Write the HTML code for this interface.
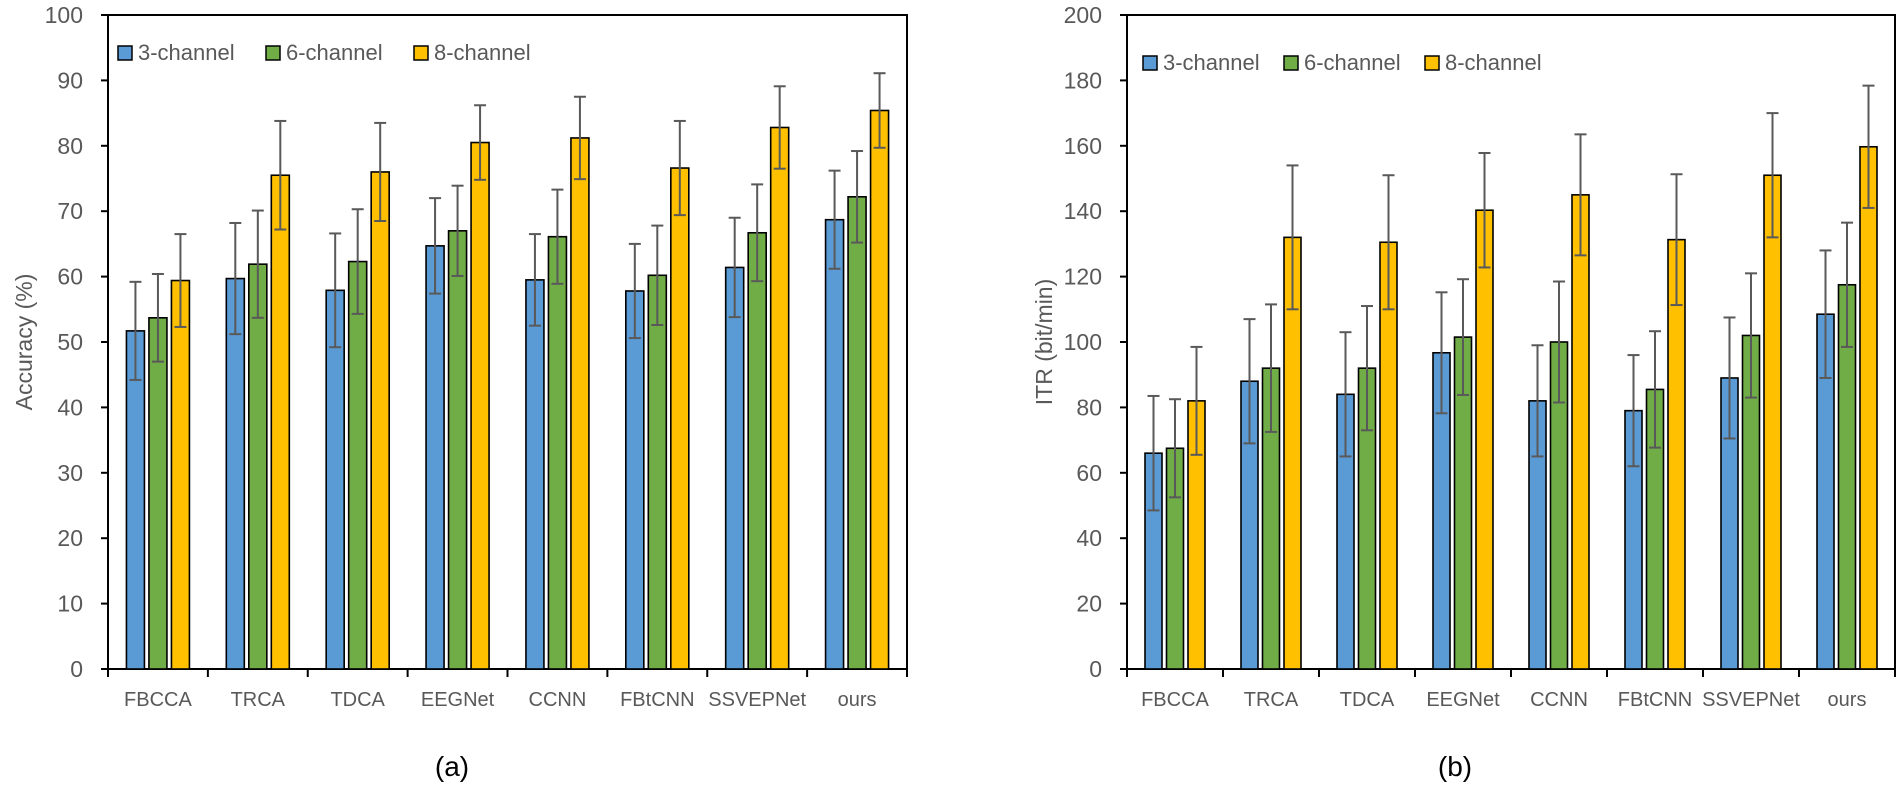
<!DOCTYPE html>
<html><head><meta charset="utf-8"><style>
html,body{margin:0;padding:0;background:#fff;}
svg{display:block;font-family:"Liberation Sans",Arial,sans-serif;}
</style></head><body>
<svg id="chart" width="1902" height="791" viewBox="0 0 1902 791" xmlns="http://www.w3.org/2000/svg"></svg>
<script>
const categories = ["FBCCA","TRCA","TDCA","EEGNet","CCNN","FBtCNN","SSVEPNet","ours"];
const seriesNames = ["3-channel","6-channel","8-channel"];
const accMean3 = [51.7,59.7,57.9,64.7,59.5,57.8,61.4,68.7];
const accMean6 = [53.7,61.9,62.3,67.0,66.1,60.2,66.7,72.2];
const accMean8 = [59.4,75.5,76.0,80.5,81.2,76.6,82.8,85.4];
const accErr3 = [7.5,8.5,8.7,7.3,7.0,7.2,7.6,7.5];
const accErr6 = [6.7,8.2,8.0,6.9,7.2,7.6,7.4,7.0];
const accErr8 = [7.1,8.3,7.5,5.7,6.3,7.2,6.3,5.7];
const itrMean3 = [66.0,88.0,84.0,96.7,82.0,79.0,89.0,108.5];
const itrMean6 = [67.5,92.0,92.0,101.5,100.0,85.5,102.0,117.5];
const itrMean8 = [82.0,132.0,130.5,140.3,145.0,131.3,151.0,159.7];
const itrErr3 = [17.5,19.0,19.0,18.5,17.0,17.0,18.5,19.5];
const itrErr6 = [15.0,19.5,19.0,17.7,18.5,17.8,19.0,19.0];
const itrErr8 = [16.5,22.0,20.5,17.5,18.5,20.0,19.0,18.7];
const accTicks = [0,10,20,30,40,50,60,70,80,90,100];
const itrTicks = [0,20,40,60,80,100,120,140,160,180,200];
const colors = ["#5b9bd5","#70ad47","#ffc000"];

const NS="http://www.w3.org/2000/svg";
const svg=document.getElementById('chart');
function mk(tag,attrs,parent){const e=document.createElementNS(NS,tag);for(const k in attrs)e.setAttribute(k,attrs[k]);(parent||svg).appendChild(e);return e;}

function drawPanel(opt){
  const g=mk('g',{});
  
  
  const x0=opt.x0,x1=opt.x1,yTop=15,yBot=669;
  const vmax=opt.ticks[opt.ticks.length-1];
  const yS=v=>yBot-(v/vmax)*(yBot-yTop);
  const cw=(x1-x0)/categories.length;
  const xC=i=>x0+cw*(i+0.5);
  // frame
  const fr=mk('rect',{x:x0,y:yTop,width:x1-x0,height:yBot-yTop,fill:'none',stroke:'#000','stroke-width':2},g);
  
  
  // y ticks
  opt.ticks.forEach(t=>{
    mk('line',{x1:x0-7,x2:x0,y1:yS(t),y2:yS(t),stroke:'#000','stroke-width':2},g);
    const tx=mk('text',{x:x0-25,y:yS(t)+8,'text-anchor':'end','font-size':23,fill:'#595959'},g);
    tx.textContent=t;
    
    
  });
  // x ticks
  for(let i=0;i<=categories.length;i++){
    mk('line',{x1:x0+cw*i,x2:x0+cw*i,y1:yBot,y2:yBot+8,stroke:'#000','stroke-width':2},g);
  }
  categories.forEach((c,i)=>{
    const tx=mk('text',{x:xC(i),y:706,'text-anchor':'middle','font-size':20,fill:'#595959'},g);
    tx.textContent=c;
    
    
  });
  // bars
  const off=[-opt.step,0,opt.step];
  opt.means.forEach((arr,s)=>{
    arr.forEach((v,i)=>{
      const cx=xC(i)+off[s];
      const r=mk('rect',{x:cx-opt.bw/2,y:yS(v),width:opt.bw,height:yBot-yS(v),fill:colors[s],stroke:'#000','stroke-width':1.6},g);
      
      
      const e=opt.errs[s][i];
      const eg=mk('g',{stroke:'#595959','stroke-width':2},g);
      
      
      mk('line',{x1:cx,x2:cx,y1:yS(v-e),y2:yS(v+e)},eg);
      mk('line',{x1:cx-6,x2:cx+6,y1:yS(v-e),y2:yS(v-e)},eg);
      mk('line',{x1:cx-6,x2:cx+6,y1:yS(v+e),y2:yS(v+e)},eg);
    });
  });
  // axis title
  const at=mk('text',{x:opt.titleX,y:(yTop+yBot)/2,'text-anchor':'middle','font-size':23,fill:'#595959',transform:`rotate(-90 ${opt.titleX} ${(yTop+yBot)/2})`},g);
  at.textContent=opt.title;
  
  
  // legend
  const lg=mk('g',{},g);
  
  
  seriesNames.forEach((n,s)=>{
    const lx=opt.legX+s*opt.legStep;
    const it=mk('g',{},lg);
    
    
    mk('rect',{x:lx,y:opt.legY-14,width:14,height:14,fill:colors[s],stroke:'#000','stroke-width':1.5},it);
    const t=mk('text',{x:lx+20,y:opt.legY,'font-size':22,fill:'#595959'},it);
    t.textContent=n;
  });
  // panel label
  const pl=mk('text',{x:opt.labelX,y:776,'text-anchor':'middle','font-size':28,fill:'#000'},g);
  pl.textContent=opt.label;
  
  
}

drawPanel({name:'accuracy-chart',x0:108,x1:907,ticks:accTicks,means:[accMean3,accMean6,accMean8],errs:[accErr3,accErr6,accErr8],
  bw:18,step:22.5,title:'Accuracy (%)',titleX:32,legX:118,legY:60,legStep:148,label:'(a)',labelX:452});
drawPanel({name:'itr-chart',x0:1127,x1:1895,ticks:itrTicks,means:[itrMean3,itrMean6,itrMean8],errs:[itrErr3,itrErr6,itrErr8],
  bw:17,step:21.5,title:'ITR (bit/min)',titleX:1052,legX:1143,legY:70,legStep:141,label:'(b)',labelX:1455});
</script>
</body></html>
